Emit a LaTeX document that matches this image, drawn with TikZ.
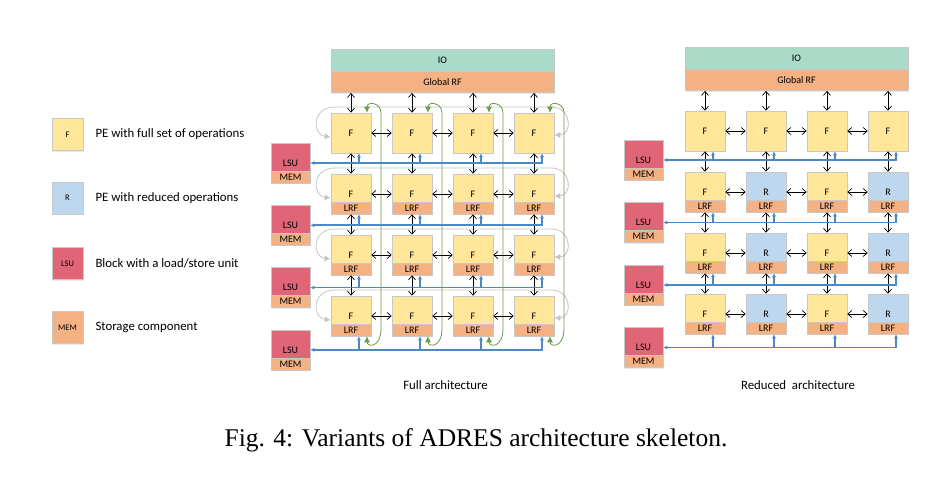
\documentclass[tikz,border=0pt]{standalone}
\usepackage{fontspec}
\setmainfont{Carlito}
\newfontfamily\captionserif{Liberation Serif}
\usepackage{xcolor}
\usetikzlibrary{positioning,arrows.meta,shadows}
\definecolor{IOGreen}{RGB}{170,219,200}
\definecolor{RFOrange}{RGB}{244,177,131}
\definecolor{PEYellow}{RGB}{255,230,153}
\definecolor{PEBlue}{RGB}{189,215,238}
\definecolor{LSURed}{RGB}{224,102,119}
\definecolor{BusBlue}{RGB}{76,136,198}
\definecolor{WrapGreen}{RGB}{104,154,70}
\definecolor{WrapGray}{RGB}{196,196,196}
\definecolor{EdgeGray}{RGB}{200,200,200}

\begin{document}
\begin{tikzpicture}[x=1pt, y=-1pt,
    box/.style={draw=EdgeGray, line width=0.6pt, inner sep=0pt, font=\fontsize{10}{11}\selectfont, drop shadow={opacity=0.18, shadow xshift=1.2pt, shadow yshift=-1.2pt}},
    pe/.style={box, fill=PEYellow, minimum width=40pt, minimum height=40pt},
    lrf/.style={draw=EdgeGray, line width=0.6pt, inner sep=0pt, fill=RFOrange, minimum width=40pt, minimum height=12pt, font=\fontsize{10}{11}\selectfont, anchor=south},
    lsu/.style={box, fill=LSURed, minimum width=39pt, minimum height=40pt},
    mem/.style={lrf, minimum width=39pt},
    io/.style={box, fill=IOGreen, minimum width=223pt, minimum height=22pt},
    grf/.style={box, fill=RFOrange, minimum width=223pt, minimum height=21pt},
    key/.style={box, minimum width=31pt, minimum height=32pt, font=\fontsize{8.5}{9}\selectfont},
    keytext/.style={anchor=west, inner sep=0pt, font=\fontsize{12.8}{14}\selectfont},
    link/.style={<->, >={Straight Barb[length=4pt,width=7pt]}, line width=0.7pt},
    bus/.style={BusBlue, line width=1.6pt, >={Latex[length=4pt,width=4pt]}},
    wrapgreen/.style={<->, WrapGreen, line width=0.8pt, >={Latex[length=6pt,width=6pt]}},
    wrapgray/.style={<->, WrapGray, line width=0.8pt, >={Latex[length=6pt,width=6pt]}}]
    \useasboundingbox (0,0) rectangle (930,478);

    % Legend
    \node[key, fill=PEYellow] (keyf) at (67.5,134.5) {F};
    \node[key, fill=PEBlue] (keyr) at (67.5,198) {R};
    \node[key, fill=LSURed] (keylsu) at (67.5,263.5) {LSU};
    \node[key, fill=RFOrange] (keymem) at (67.5,327.5) {MEM};
    \node[keytext, right=12pt of keyf] {PE with full set of operations};
    \node[keytext, right=12pt of keyr] {PE with reduced operations};
    \node[keytext, right=12pt of keylsu] {Block with a load/store unit};
    \node[keytext, right=12pt of keymem] {Storage component};

    % Full architecture
    \node[io] (fio) at (442.5,60) {IO};
    \node[grf, below=0pt of fio] (fgrf) {Global RF};
    \foreach \c in {1,...,4}
      \foreach \r in {1,...,4}
        \node[pe] (fpe-\c-\r) at ({351+61*(\c-1)},{133+61*(\r-1)}) {F};
    \foreach \c in {1,...,4}
      \foreach \r in {2,3,4}
        \node[lrf] at (fpe-\c-\r.south) {LRF};
    \foreach \r in {1,...,4} {
      \node[lsu] (flsu\r) at (290.5,{163+62.3*(\r-1)}) {LSU};
      \node[mem] at (flsu\r.south) {MEM};
    }
    \node[keytext, anchor=center] (fcap) at (445.5,385) {Full architecture};

    % wrap-around links of the full array
    \foreach \r in {1,...,4}
      \draw[wrapgray] ([yshift=-4pt]fpe-1-\r.west) .. controls +(-19,-2) and +(-23,0) .. ([xshift=4pt,yshift=26pt]fpe-1-\r.west) -- ([xshift=-3pt,yshift=26pt]fpe-4-\r.east) .. controls +(21,0) and +(18,0) .. ([yshift=-2pt]fpe-4-\r.east);
    \foreach \c in {1,...,4}
      \draw[wrapgreen] ([xshift=16pt]fpe-\c-1.north) .. controls +(0,-12) and +(0,-10) .. ([xshift=30pt]fpe-\c-1.north) -- ([xshift=30pt,yshift=8pt]fpe-\c-4.south) .. controls +(0,20) and +(0,11) .. ([xshift=16pt]fpe-\c-4.south);

    % neighbour links
    \foreach \c in {1,...,4} {
      \draw[link] (fpe-\c-1.north |- fgrf.south) -- (fpe-\c-1.north);
      \foreach \r [count=\n from 2] in {1,2,3}
        \draw[link] (fpe-\c-\r.south) -- (fpe-\c-\n.north);
    }
    \foreach \r in {1,...,4}
      \foreach \c [count=\n from 2] in {1,2,3}
        \draw[link] (fpe-\c-\r.east) -- (fpe-\n-\r.west);

    % memory buses
    \foreach \r in {1,...,4} {
      \foreach \c in {1,...,4}
        \coordinate (fb-\c-\r) at ([xshift=8pt]fpe-\c-\r.south);
      \draw[bus,<->] (fb-4-\r) |- (flsu\r.east);
      \foreach \c in {1,2,3}
        \draw[bus,->] (fb-\c-\r |- flsu\r.east) -- (fb-\c-\r);
    }

    % Reduced architecture
    \node[io] (rio) at (796.5,58) {IO};
    \node[grf, below=0pt of rio] (rgrf) {Global RF};
    \foreach \c in {1,...,4}
      \node[pe] (rpe-\c-1) at ({705+61*(\c-1)},131) {F};
    \foreach \c/\kind/\col in {1/F/PEYellow,2/R/PEBlue,3/F/PEYellow,4/R/PEBlue}
      \foreach \r in {2,3,4} {
        \node[pe, fill=\col] (rpe-\c-\r) at ({705+61*(\c-1)},{131+61*(\r-1)}) {\kind};
        \node[lrf] at (rpe-\c-\r.south) {LRF};
      }
    \foreach \r in {1,...,4} {
      \node[lsu] (rlsu\r) at (643.5,{160+62.5*(\r-1)}) {LSU};
      \node[mem] at (rlsu\r.south) {MEM};
    }
    \node[keytext, anchor=center] (rcap) at (798,385) {Reduced\ \ architecture};

    \foreach \c in {1,...,4} {
      \draw[link] (rpe-\c-1.north |- rgrf.south) -- (rpe-\c-1.north);
      \foreach \r [count=\n from 2] in {1,2,3}
        \draw[link] (rpe-\c-\r.south) -- (rpe-\c-\n.north);
    }
    \foreach \r in {1,...,4}
      \foreach \c [count=\n from 2] in {1,2,3}
        \draw[link] (rpe-\c-\r.east) -- (rpe-\n-\r.west);

    \foreach \r in {1,...,4} {
      \foreach \c in {1,...,4}
        \coordinate (rb-\c-\r) at ([xshift=8pt]rpe-\c-\r.south);
      \draw[bus,<->] (rb-4-\r) |- (rlsu\r.east);
      \foreach \c in {1,2,3}
        \draw[bus,->] (rb-\c-\r |- rlsu\r.east) -- (rb-\c-\r);
    }

    % Caption
    \node[font=\captionserif\fontsize{25.5}{30}\selectfont, anchor=base] (figcap) at (476,447) {Fig. 4: Variants of ADRES architecture skeleton.};
\end{tikzpicture}
\end{document}
